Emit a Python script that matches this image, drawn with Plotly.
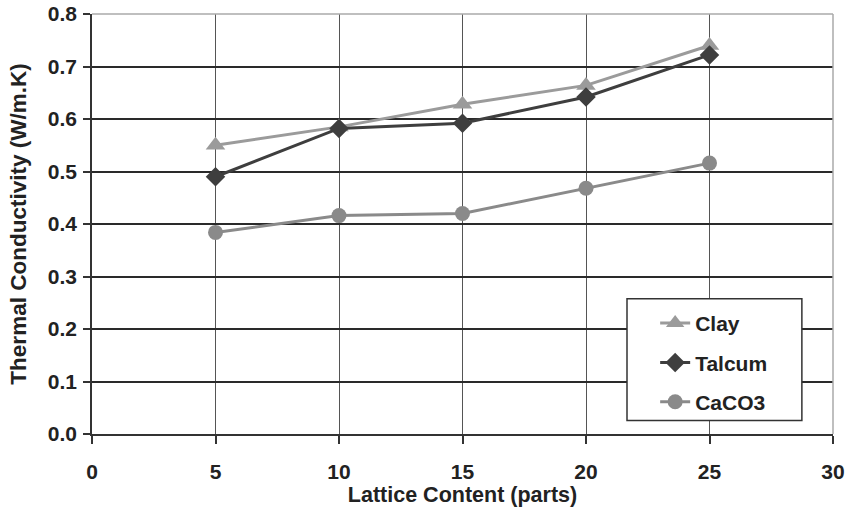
import plotly.graph_objects as go

x_vals = [5, 10, 15, 20, 25]
clay = [0.550, 0.585, 0.628, 0.664, 0.740]
talcum = [0.490, 0.582, 0.592, 0.642, 0.722]
caco3 = [0.384, 0.416, 0.420, 0.468, 0.516]
x_ticks = [0, 5, 10, 15, 20, 25, 30]
y_ticks = [0.0, 0.1, 0.2, 0.3, 0.4, 0.5, 0.6, 0.7, 0.8]
y_tick_text = ["0.0", "0.1", "0.2", "0.3", "0.4", "0.5", "0.6", "0.7", "0.8"]

FONT = "Liberation Sans, Arial, sans-serif"

fig = go.Figure()
fig.add_trace(go.Scatter(x=x_vals, y=clay, name="<b>Clay</b>", mode="lines+markers",
                         legendgroup="a",
                         line=dict(color="#9b9b9b", width=3),
                         marker=dict(symbol="triangle-up", size=17, color="#9b9b9b")))
fig.add_trace(go.Scatter(x=x_vals, y=talcum, name="<b>Talcum</b>", mode="lines+markers",
                         legendgroup="b",
                         line=dict(color="#3e3e3e", width=3),
                         marker=dict(symbol="diamond", size=15, color="#3e3e3e")))
fig.add_trace(go.Scatter(x=x_vals, y=caco3, name="<b>CaCO3</b>", mode="lines+markers",
                         legendgroup="c",
                         line=dict(color="#8a8a8a", width=3),
                         marker=dict(symbol="circle", size=15, color="#8a8a8a")))

fig.update_layout(
    width=850, height=513,
    margin=dict(l=92, r=17, t=13.5, b=78.5, autoexpand=False),
    paper_bgcolor="white", plot_bgcolor="white",
    font=dict(family=FONT, size=21, color="#222"),
    showlegend=True,
    legend=dict(x=0.76, y=0.312, xanchor="left", yanchor="top",
                borderwidth=0, bgcolor="rgba(0,0,0,0)",
                font=dict(family=FONT, size=21, color="#222"),
                traceorder="grouped", tracegroupgap=9),
    xaxis=dict(range=[0, 30], tickvals=x_ticks, ticktext=[f"<b>{v}</b>" for v in x_ticks],
               showgrid=True, gridcolor="#555", gridwidth=1.2,
               showline=True, linecolor="#333", linewidth=1.5,
               ticks="outside", ticklen=8, tickcolor="#333", tickwidth=1.5,
               ticklabelstandoff=10, zeroline=False, automargin=False,
               tickfont=dict(size=21),
               title=dict(text="<b>Lattice Content (parts)</b>", font=dict(size=21.5), standoff=5)),
    yaxis=dict(range=[0, 0.8], tickvals=y_ticks, ticktext=[f"<b>{t}</b>" for t in y_tick_text],
               showgrid=True, gridcolor="#2a2a2a", gridwidth=1.5,
               showline=True, linecolor="#333", linewidth=1.5,
               ticks="outside", ticklen=7, tickcolor="#333", tickwidth=1.5,
               ticklabelstandoff=2, zeroline=False, automargin=False,
               tickfont=dict(size=21),
               title=dict(text="<b>Thermal Conductivity (W/m.K)</b>", font=dict(size=22.5), standoff=15)),
    shapes=[
        dict(type="line", xref="paper", yref="paper", x0=0, x1=1, y0=1, y1=1,
             line=dict(color="#aaaaaa", width=1.5), layer="above"),
        dict(type="line", xref="paper", yref="paper", x0=1, x1=1, y0=0, y1=1,
             line=dict(color="#aaaaaa", width=1.5), layer="above"),
        dict(type="rect", xref="paper", yref="paper", x0=0.722, x1=0.958, y0=0.032, y1=0.322,
             line=dict(color="#333", width=1.5), fillcolor="white", layer="above"),
    ],
)

fig.write_html("out.html")
